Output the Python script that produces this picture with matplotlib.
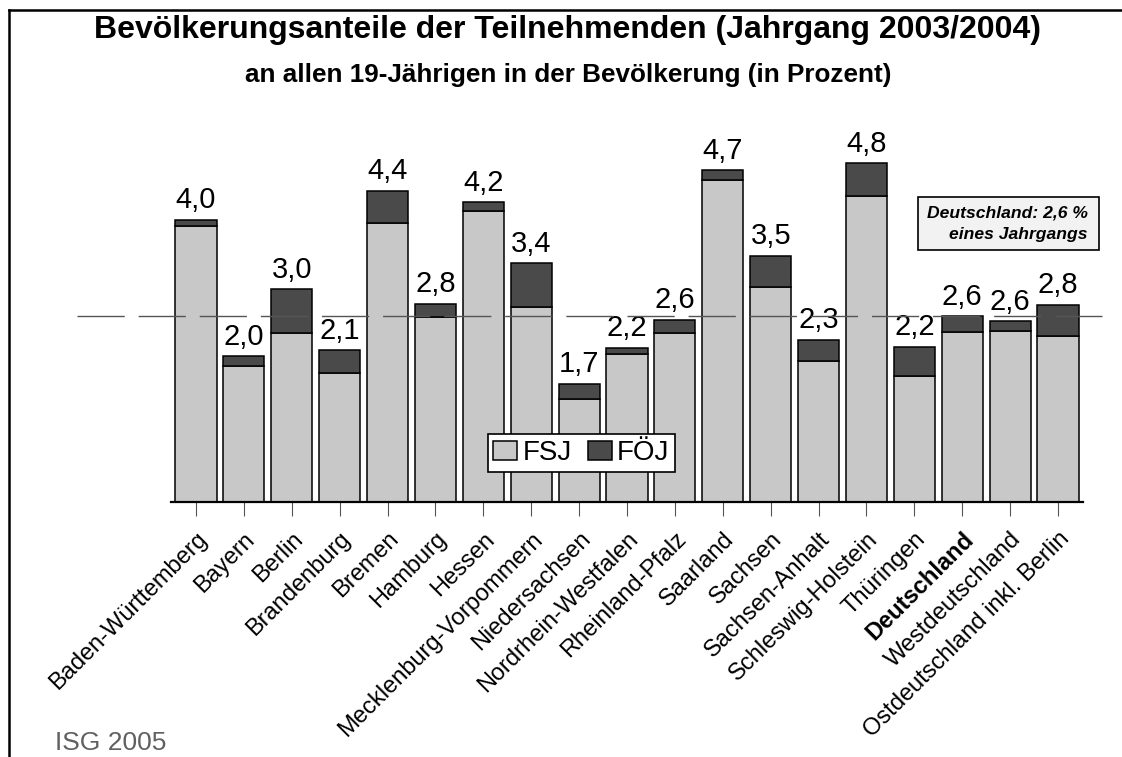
import matplotlib.pyplot as plt
from matplotlib.patches import Rectangle
from matplotlib.lines import Line2D

plt.rcParams['font.family'] = ['Liberation Sans', 'DejaVu Sans']

laender = ['Baden-Württemberg', 'Bayern', 'Berlin', 'Brandenburg', 'Bremen', 'Hamburg',
           'Hessen', 'Mecklenburg-Vorpommern', 'Niedersachsen', 'Nordrhein-Westfalen',
           'Rheinland-Pfalz', 'Saarland', 'Sachsen', 'Sachsen-Anhalt', 'Schleswig-Holstein',
           'Thüringen', 'Deutschland', 'Westdeutschland', 'Ostdeutschland inkl. Berlin']
fsj = [3.91, 1.92, 2.40, 1.82, 3.96, 2.62, 4.13, 2.76, 1.46, 2.09,
       2.39, 4.56, 3.05, 1.99, 4.33, 1.79, 2.41, 2.42, 2.35]
foej = [0.09, 0.14, 0.61, 0.33, 0.45, 0.19, 0.12, 0.62, 0.21, 0.09,
        0.19, 0.14, 0.44, 0.31, 0.47, 0.41, 0.22, 0.14, 0.44]
gesamt = [4.0, 2.0, 3.0, 2.1, 4.4, 2.8, 4.2, 3.4, 1.7, 2.2,
          2.6, 4.7, 3.5, 2.3, 4.8, 2.2, 2.6, 2.6, 2.8]
deutschland_schnitt = 2.63

W, H = 1122, 757
fig = plt.figure(figsize=(W / 100, H / 100), dpi=100)

# axes placed in pixel terms
ax = fig.add_axes([171 / W, (H - 501.7) / H, 912 / W, 352.5 / H])

x = list(range(len(laender)))
tops = [a + b for a, b in zip(fsj, foej)]
ax.bar(x, fsj, width=0.86, color='#c8c8c8', edgecolor='black', linewidth=1.1, label='FSJ', zorder=2)
ax.bar(x, foej, width=0.86, bottom=fsj, color='#4a4a4a', edgecolor='black', linewidth=1.1,
       label='FÖJ', zorder=2)

for xi, top, val in zip(x, tops, gesamt):
    ax.annotate(f'{val:.1f}'.replace('.', ','), (xi, top), xytext=(0, 4), textcoords='offset points',
                ha='center', va='bottom', fontsize=21)

ax.axhline(deutschland_schnitt, xmin=-0.103, xmax=1.021, clip_on=False, color='#555555',
           linewidth=1, dashes=(34, 10), zorder=3)

ax.set_xlim(-0.52, 18.52)
ax.set_ylim(0, 5)
for side in ['left', 'right', 'top']:
    ax.spines[side].set_visible(False)
ax.spines['bottom'].set_linewidth(1.6)
ax.set_yticks([])
ax.set_xticks(x)
ax.set_xticklabels(laender, rotation=45, ha='right', rotation_mode='anchor', fontsize=17)
ax.tick_params(axis='x', direction='out', length=10, width=0.8, color='#555555', pad=9)
for lbl in ax.get_xticklabels():
    if lbl.get_text() == 'Deutschland':
        lbl.set_fontweight('bold')

leg = ax.legend(loc='center', bbox_to_anchor=(581.5 / W, (H - 453) / H), bbox_transform=fig.transFigure,
                ncol=2, fontsize=20, frameon=True, fancybox=False, framealpha=1, edgecolor='black',
                handlelength=0.86, handleheight=0.65, handletextpad=0.18, columnspacing=0.6,
                borderpad=0.2, borderaxespad=0)
leg.get_frame().set_linewidth(1.2)

# info box top right
fig.patches.append(Rectangle((918 / W, (H - 250) / H), 181 / W, 53 / H, transform=fig.transFigure,
                             facecolor='#f2f2f2', edgecolor='black', linewidth=1.2))
fig.text(1087.5 / W, (H - 218) / H, 'Deutschland: 2,6 %', ha='right', va='baseline',
         fontsize=12.6, fontweight='bold', fontstyle='italic')
fig.text(1087.5 / W, (H - 239) / H, 'eines Jahrgangs', ha='right', va='baseline',
         fontsize=12.6, fontweight='bold', fontstyle='italic')

fig.text(568 / W, 1 - 30 / H, 'Bevölkerungsanteile der Teilnehmenden (Jahrgang 2003/2004)',
         ha='center', va='center', fontsize=23, fontweight='bold')
fig.text(568 / W, 1 - 75 / H, 'an allen 19-Jährigen in der Bevölkerung (in Prozent)',
         ha='center', va='center', fontsize=18.8, fontweight='bold')
fig.text(55 / W, 1 - 743 / H, 'ISG 2005', ha='left', va='center', fontsize=19, color='#606060')

# outer frame (left and top edges visible)
fig.lines.append(Line2D([8.5 / W, 8.5 / W], [0, 1 - 9.5 / H], transform=fig.transFigure, color='black', linewidth=1.8))
fig.lines.append(Line2D([8.5 / W, 1], [1 - 9.5 / H, 1 - 9.5 / H], transform=fig.transFigure, color='black', linewidth=1.8))

fig.savefig('out.png', dpi=100)
